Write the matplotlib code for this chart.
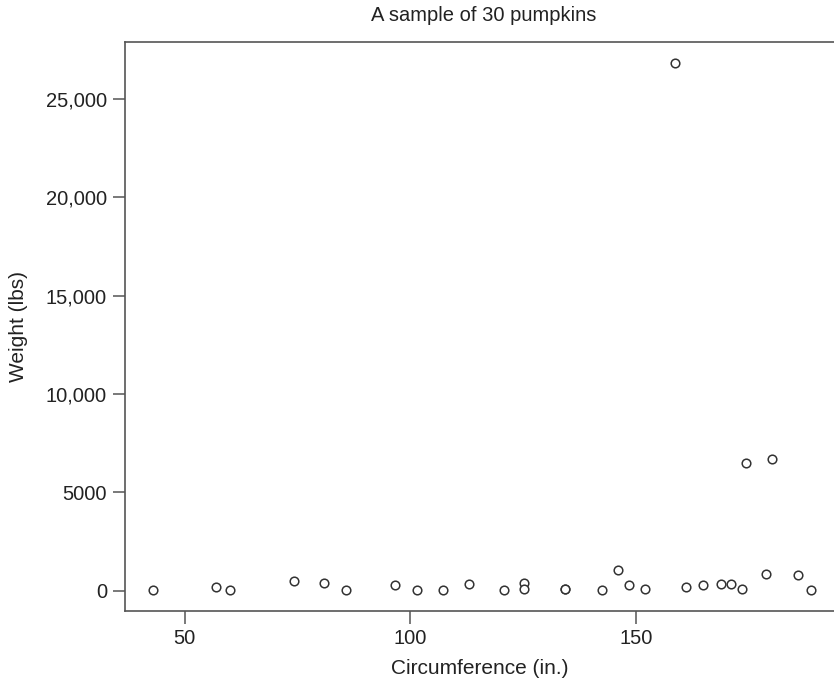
import matplotlib
matplotlib.use("Agg")
import matplotlib.pyplot as plt

# circumference (in.) and weight (lbs) of the 30 pumpkins
circumference = [42.9, 56.9, 60.0, 74.3, 80.9, 85.7, 96.7, 101.6, 107.3, 113.0,
                 120.7, 125.3, 125.3, 134.2, 134.2, 142.5, 146.1, 148.4, 152.0, 158.7,
                 161.1, 164.8, 168.8, 171.1, 173.5, 174.4, 178.8, 180.2, 186.0, 188.7]
weight = [25, 160, 25, 500, 400, 25, 280, 25, 25, 330,
          25, 400, 60, 60, 60, 25, 1040, 280, 75, 26830,
          200, 295, 345, 315, 75, 6480, 855, 6690, 800, 25]

x_ticks = [50, 100, 150]
y_ticks = [0, 5000, 10000, 15000, 20000, 25000]
y_tick_labels = ["0", "5000", "10,000", "15,000", "20,000", "25,000"]

title = "A sample of 30 pumpkins"
x_label = "Circumference (in.)"
y_label = "Weight (lbs)"

plt.rcParams["font.family"] = ["Liberation Sans", "DejaVu Sans"]
text_color = "#222222"
axis_color = "#555555"

fig = plt.figure(figsize=(8.34, 6.87), dpi=100)
ax = fig.add_axes([0.1499, 0.1106, 0.8501, 0.8287])

ax.plot(circumference, weight, linestyle="none", marker="o", markersize=6.2,
        markerfacecolor="white", markeredgecolor="#333333", markeredgewidth=1.1)

ax.set_xlim(36.8, 193.9)
ax.set_ylim(-1043, 27912)
ax.set_xticks(x_ticks)
ax.set_yticks(y_ticks)
ax.set_yticklabels(y_tick_labels)

ax.spines["right"].set_visible(False)
for side in ["left", "bottom", "top"]:
    ax.spines[side].set_color(axis_color)
    ax.spines[side].set_linewidth(1.2)

ax.tick_params(axis="both", length=9, width=1.1, color=axis_color,
               labelsize=14.5, labelcolor=text_color, pad=4)

# title sits a little right of the axes centre in the original
ax.set_title(title, fontsize=14.5, color=text_color, pad=15, x=0.506)
ax.set_xlabel(x_label, fontsize=15, color=text_color, labelpad=8)
ax.set_ylabel(y_label, fontsize=15, color=text_color, labelpad=13)

fig.savefig("out.png", dpi=100)
